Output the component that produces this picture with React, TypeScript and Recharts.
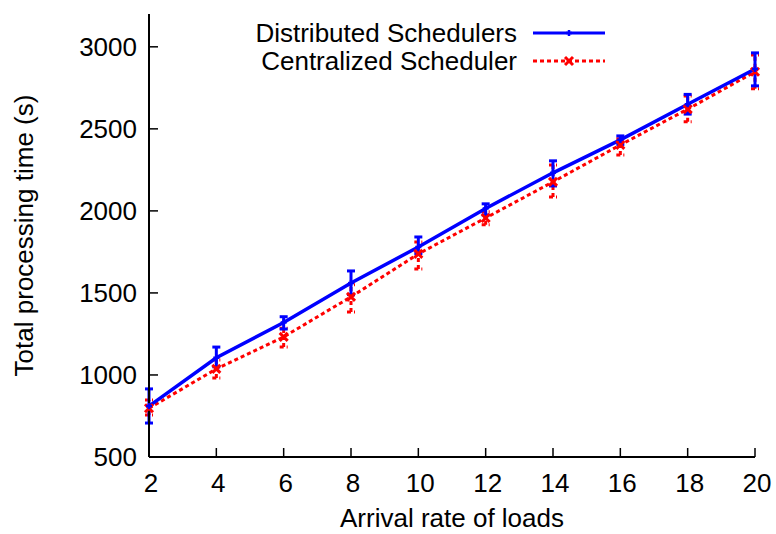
import React from 'react';
import { LineChart, Line, XAxis, YAxis, ErrorBar, Legend } from 'recharts';

const arrivalRates = [2, 4, 6, 8, 10, 12, 14, 16, 18, 20];
const distributed = [810, 1105, 1320, 1560, 1780, 2015, 2232, 2433, 2650, 2865];
const distributedLow = [707, 1050, 1280, 1490, 1740, 1975, 2152, 2405, 2590, 2762];
const distributedHigh = [915, 1170, 1355, 1634, 1841, 2043, 2305, 2457, 2710, 2963];
const centralized = [797, 1037, 1232, 1476, 1738, 1957, 2177, 2402, 2620, 2848];
const centralizedLow = [756, 982, 1170, 1384, 1646, 1915, 2085, 2341, 2543, 2745];
const centralizedHigh = [847, 1091, 1285, 1550, 1810, 1995, 2280, 2440, 2700, 2950];
const seriesNames = ['Distributed Schedulers', 'Centralized Scheduler'];
const xTicks = [2, 4, 6, 8, 10, 12, 14, 16, 18, 20];
const yTicks = [500, 1000, 1500, 2000, 2500, 3000];
const xTitle = 'Arrival rate of loads';
const yTitle = 'Total processing time (s)';

const data = arrivalRates.map((x, i) => ({
  x,
  dist: distributed[i],
  distErr: [distributed[i] - distributedLow[i], distributedHigh[i] - distributed[i]],
  cent: centralized[i],
  centErr: [centralized[i] - centralizedLow[i], centralizedHigh[i] - centralized[i]],
}));

const FONT = '"Liberation Sans", Arial, Helvetica, sans-serif';
const BLUE = '#0000ff';
const RED = '#ff0000';

const LeftTick = (props: any) => {
  const { x, y, payload } = props;
  return (
    <g>
      <line x1={x} x2={x + 9} y1={y} y2={y} stroke="#000" strokeWidth={1.5} />
      <text x={x - 12} y={y} dy={9} textAnchor="end" fontSize={26} fontFamily={FONT} fill="#000">
        {payload.value}
      </text>
    </g>
  );
};

const RightTick = (props: any) => {
  const { x, y } = props;
  return <line x1={x} x2={x - 9} y1={y} y2={y} stroke="#000" strokeWidth={1.5} />;
};

const BottomTick = (props: any) => {
  const { x, y, payload } = props;
  return (
    <g>
      <line x1={x} x2={x} y1={y} y2={y - 9} stroke="#000" strokeWidth={1.5} />
      <text x={x + 2} y={y + 35} textAnchor="middle" fontSize={26} fontFamily={FONT} fill="#000">
        {payload.value}
      </text>
    </g>
  );
};

const TopTick = (props: any) => {
  const { x, y } = props;
  return <line x1={x} x2={x} y1={y} y2={y + 9} stroke="#000" strokeWidth={1.5} />;
};

const PlusDot = (props: any) => {
  const { cx, cy } = props;
  if (cx == null || cy == null) return null;
  return (
    <g>
      <line x1={cx - 3} x2={cx + 3} y1={cy} y2={cy} stroke={BLUE} strokeWidth={2.5} />
      <line x1={cx} x2={cx} y1={cy - 3} y2={cy + 3} stroke={BLUE} strokeWidth={2.5} />
    </g>
  );
};

const CrossDot = (props: any) => {
  const { cx, cy } = props;
  if (cx == null || cy == null) return null;
  return (
    <g>
      <line x1={cx - 4} x2={cx + 4} y1={cy - 4} y2={cy + 4} stroke={RED} strokeWidth={3} />
      <line x1={cx - 4} x2={cx + 4} y1={cy + 4} y2={cy - 4} stroke={RED} strokeWidth={3} />
    </g>
  );
};

const XTitle = (props: any) => {
  const vb = props.viewBox || { x: 149, y: 457, width: 606, height: 77 };
  return (
    <text x={vb.x + vb.width / 2} y={vb.y + 70} textAnchor="middle" fontSize={26} fontFamily={FONT} fill="#000">
      {xTitle}
    </text>
  );
};

const YTitle = (props: any) => {
  const vb = props.viewBox || { x: 0, y: 14, width: 149, height: 443 };
  const cx = 33;
  const cy = vb.y + vb.height / 2;
  return (
    <text x={cx} y={cy} transform={`rotate(-90, ${cx}, ${cy})`} textAnchor="middle" fontSize={26} fontFamily={FONT} fill="#000">
      {yTitle}
    </text>
  );
};

const LegendContent = () => {
  const rows = [
    { name: seriesNames[0], color: BLUE, dash: undefined as string | undefined, marker: 'plus' },
    { name: seriesNames[1], color: RED, dash: '4 3', marker: 'cross' },
  ];
  return (
    <svg width={776} height={80} style={{ display: 'block' }}>
      {rows.map((r, i) => {
        const ly = 33 + i * 28;
        const mx = 569;
        return (
          <g key={r.name}>
            <text x={517} y={ly + 9} textAnchor="end" fontSize={26} fontFamily={FONT} fill="#000">
              {r.name}
            </text>
            <line x1={533} x2={605} y1={ly} y2={ly} stroke={r.color} strokeWidth={3} strokeDasharray={r.dash} />
            {r.marker === 'plus' ? (
              <g>
                <line x1={mx - 3} x2={mx + 3} y1={ly} y2={ly} stroke={BLUE} strokeWidth={2.5} />
                <line x1={mx} x2={mx} y1={ly - 3} y2={ly + 3} stroke={BLUE} strokeWidth={2.5} />
              </g>
            ) : (
              <g>
                <line x1={mx - 4} x2={mx + 4} y1={ly - 4} y2={ly + 4} stroke={RED} strokeWidth={3} />
                <line x1={mx - 4} x2={mx + 4} y1={ly + 4} y2={ly - 4} stroke={RED} strokeWidth={3} />
              </g>
            )}
          </g>
        );
      })}
    </svg>
  );
};

export default function App() {
  return (
    <div style={{ position: 'fixed', left: 0, top: 0, width: 776, height: 534, overflow: 'hidden', background: '#fff' }}>
      <LineChart width={776} height={534} data={data} margin={{ top: 14, right: 21, bottom: 0, left: 0 }}>
        <XAxis
          xAxisId={0}
          dataKey="x"
          type="number"
          domain={[2, 20]}
          ticks={xTicks}
          height={77}
          tickSize={0}
          tickMargin={0}
          tick={<BottomTick />}
          axisLine={{ stroke: '#000', strokeWidth: 2 }}
          tickLine={false}
          label={<XTitle />}
        />
        <XAxis
          xAxisId="top"
          dataKey="x"
          type="number"
          orientation="top"
          domain={[2, 20]}
          ticks={xTicks}
          height={0}
          tickSize={0}
          tickMargin={0}
          tick={<TopTick />}
          axisLine={{ stroke: '#000', strokeWidth: 2 }}
          tickLine={false}
        />
        <YAxis
          yAxisId={0}
          type="number"
          domain={[500, 3200]}
          ticks={yTicks}
          width={149}
          tickSize={0}
          tickMargin={0}
          tick={<LeftTick />}
          axisLine={{ stroke: '#000', strokeWidth: 2 }}
          tickLine={false}
          label={<YTitle />}
        />
        <YAxis
          yAxisId="right"
          type="number"
          orientation="right"
          domain={[500, 3200]}
          ticks={yTicks}
          width={0}
          tickSize={0}
          tickMargin={0}
          tick={<RightTick />}
          axisLine={{ stroke: '#000', strokeWidth: 2 }}
          tickLine={false}
        />
        <Line
          xAxisId={0}
          yAxisId={0}
          name={seriesNames[1]}
          dataKey="cent"
          stroke={RED}
          strokeWidth={3}
          strokeDasharray="4 3"
          dot={<CrossDot />}
          activeDot={false}
          isAnimationActive={false}
        >
          <ErrorBar dataKey="centErr" direction="y" width={4} stroke={RED} strokeWidth={3} strokeDasharray="4 3" />
        </Line>
        <Line
          xAxisId={0}
          yAxisId={0}
          name={seriesNames[0]}
          dataKey="dist"
          stroke={BLUE}
          strokeWidth={3.5}
          dot={<PlusDot />}
          activeDot={false}
          isAnimationActive={false}
        >
          <ErrorBar dataKey="distErr" direction="y" width={4} stroke={BLUE} strokeWidth={3} />
        </Line>
        <Legend
          layout="vertical"
          align="center"
          verticalAlign="middle"
          content={<LegendContent />}
          wrapperStyle={{ position: 'absolute', left: 0, top: 0, width: 776, height: 80 }}
        />
      </LineChart>
    </div>
  );
}
